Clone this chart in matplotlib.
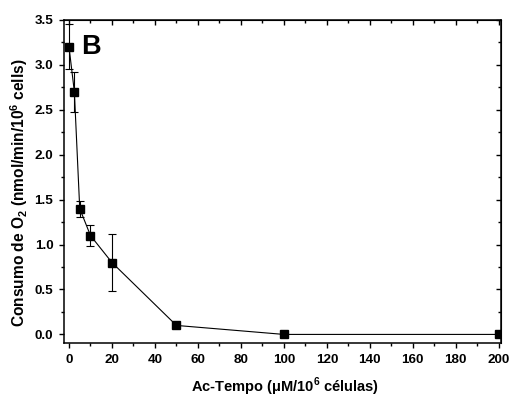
import numpy as np
import matplotlib
matplotlib.use("Agg")
import matplotlib.pyplot as plt
from matplotlib.ticker import MultipleLocator

# Data
conc = [0, 2.5, 5, 10, 20, 50, 100, 200]
o2 = [3.20, 2.70, 1.40, 1.10, 0.80, 0.10, 0.0, 0.0]
err = [0.25, 0.22, 0.09, 0.12, 0.32, 0.02, 0.0, 0.0]

plt.rcParams['font.family'] = ['Liberation Sans', 'DejaVu Sans']
plt.rcParams['font.weight'] = 'bold'
plt.rcParams['mathtext.fontset'] = 'custom'
plt.rcParams['mathtext.bf'] = 'Liberation Sans:bold'
plt.rcParams['mathtext.rm'] = 'Liberation Sans:bold'

fig = plt.figure(figsize=(5.10, 3.97), dpi=100)
ax = fig.add_axes([0.126, 0.135, 0.857, 0.815])

ax.errorbar(conc, o2, yerr=err, color='black', marker='s', markersize=5.3,
            linewidth=0.8, elinewidth=0.8, capsize=3, capthick=0.8)

ax.set_xlim(-2.2, 201.2)
ax.set_ylim(-0.1, 3.5)
ax.xaxis.set_major_locator(MultipleLocator(20))
ax.xaxis.set_minor_locator(MultipleLocator(10))
ax.yaxis.set_major_locator(MultipleLocator(0.5))
ax.yaxis.set_minor_locator(MultipleLocator(0.25))

ax.tick_params(which='both', direction='out', width=1, labelsize=9.7, pad=4)
ax.tick_params(which='major', length=3.8)
ax.tick_params(which='minor', length=2.2)
for s in ax.spines.values():
    s.set_linewidth(1.1)

# mirrored inward ticks on top and right
top = ax.secondary_xaxis('top')
top.xaxis.set_major_locator(MultipleLocator(20))
top.xaxis.set_minor_locator(MultipleLocator(10))
top.tick_params(which='both', direction='in', labeltop=False, width=1)
top.tick_params(which='major', length=3.8)
top.tick_params(which='minor', length=2.2)
right = ax.secondary_yaxis('right')
right.yaxis.set_major_locator(MultipleLocator(0.5))
right.yaxis.set_minor_locator(MultipleLocator(0.25))
right.tick_params(which='both', direction='in', labelright=False, width=1)
right.tick_params(which='major', length=3.8)
right.tick_params(which='minor', length=2.2)

for lab in ax.get_xticklabels() + ax.get_yticklabels():
    lab.set_fontweight('bold')

ax.set_xlabel(r'Ac-Tempo ($\mathbf{\mu}$M/10$^\mathbf{6}$ células)',
              fontsize=10.5, fontweight='bold')
ax.set_ylabel(r'Consumo de O$_\mathbf{2}$ (nmol/min/10$^\mathbf{6}$ cells)',
              fontsize=11.2, fontweight='bold')
ax.xaxis.set_label_coords(0.505, -0.10)
ax.yaxis.set_label_coords(-0.079, 0.465)

ax.text(5.5, 3.122, 'B', fontsize=19.5, fontweight='bold', va='baseline', ha='left')

fig.savefig('out.png', dpi=100)
